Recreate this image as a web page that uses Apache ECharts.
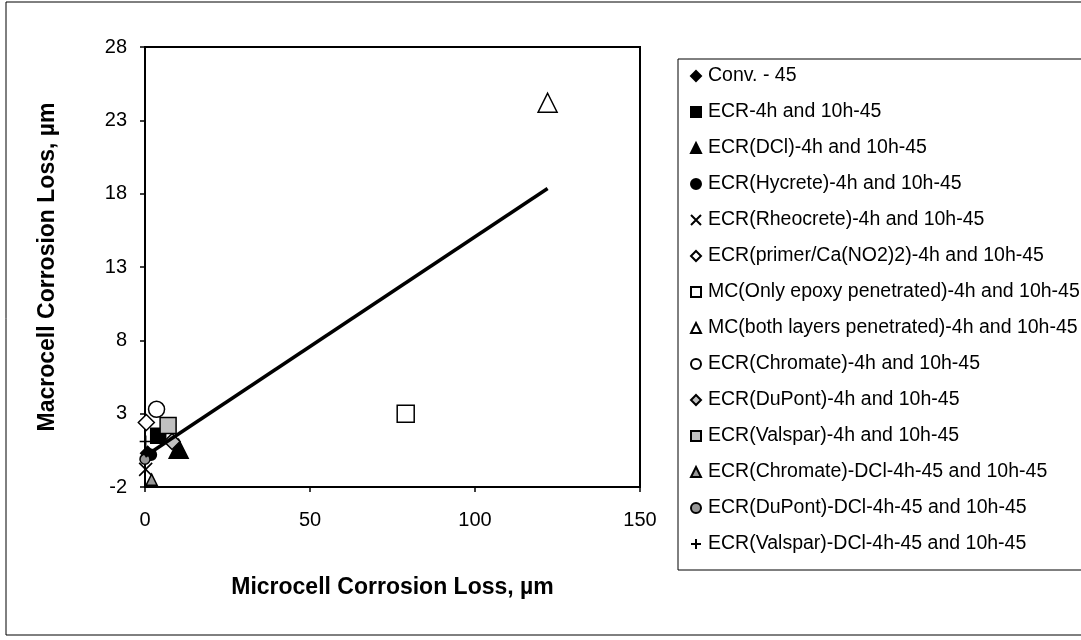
<!DOCTYPE html>
<html>
<head>
<meta charset="utf-8">
<script src="https://cdn.jsdelivr.net/npm/echarts@6/dist/echarts.min.js"></script>
<style>
html,body{margin:0;padding:0;background:#fff;}
#chart{width:1081px;height:640px;}
</style>
</head>
<body>
<div id="chart"></div>
<script>
// ---- data ----
const seriesNames = [
  'Conv. - 45',
  'ECR-4h and 10h-45',
  'ECR(DCl)-4h and 10h-45',
  'ECR(Hycrete)-4h and 10h-45',
  'ECR(Rheocrete)-4h and 10h-45',
  'ECR(primer/Ca(NO2)2)-4h and 10h-45',
  'MC(Only epoxy penetrated)-4h and 10h-45',
  'MC(both layers penetrated)-4h and 10h-45',
  'ECR(Chromate)-4h and 10h-45',
  'ECR(DuPont)-4h and 10h-45',
  'ECR(Valspar)-4h and 10h-45',
  'ECR(Chromate)-DCl-4h-45 and 10h-45',
  'ECR(DuPont)-DCl-4h-45 and 10h-45',
  'ECR(Valspar)-DCl-4h-45 and 10h-45'
];
// microcell (x) values
const microcell = [0.8, 4.0, 10.2, 1.8, 0.2, 0.4, 79.0, 122.0, 3.5, 8.2, 7.0, 2.0, 0.0, 0.2];
// macrocell (y) values
const macrocell = [0.3, 1.5, 0.6, 0.2, -0.8, 2.4, 3.0, 24.2, 3.3, 1.1, 2.2, -1.5, -0.1, 1.1];
// trend line end points
const trendX = [0, 122];
const trendY = [0.1, 18.35];
const xTicks = [0, 50, 100, 150];
const yTicks = [-2, 3, 8, 13, 18, 23, 28];

// ---- styles ----
const XPATH = 'path://M0,0L10,10M10,0L0,10';
const PLUSPATH = 'path://M5,0L5,10M0,5L10,5';
const markerStyles = [
  {symbol: 'diamond', size: 14, fill: '#000'},
  {symbol: 'rect', size: 15, fill: '#000'},
  {symbol: 'triangle', size: 19, fill: '#000'},
  {symbol: 'circle', size: 11, fill: '#000'},
  {symbol: XPATH, size: 13, fill: 'none', line: true},
  {symbol: 'diamond', size: 16, fill: '#fff'},
  {symbol: 'rect', size: 17, fill: '#fff'},
  {symbol: 'triangle', size: 19, fill: '#fff'},
  {symbol: 'circle', size: 16, fill: '#fff'},
  {symbol: 'diamond', size: 16, fill: '#c0c0c0'},
  {symbol: 'rect', size: 16, fill: '#c0c0c0'},
  {symbol: 'triangle', size: 11, fill: '#969696'},
  {symbol: 'circle', size: 10, fill: '#969696'},
  {symbol: PLUSPATH, size: 12, fill: 'none', line: true}
];

const font = 'Liberation Sans, Arial, sans-serif';
const series = seriesNames.map((name, i) => {
  const m = markerStyles[i];
  return {
    name: name,
    type: 'scatter',
    data: [[microcell[i], macrocell[i]]],
    symbol: m.symbol,
    symbolSize: m.size,
    z: 3,
    itemStyle: {
      color: m.line ? 'rgba(0,0,0,0)' : m.fill,
      borderColor: '#000',
      borderWidth: m.line ? 1.6 : 1.5,
      opacity: 1
    }
  };
});
series.push({
  name: 'trend',
  type: 'line',
  data: trendX.map((x, i) => [x, trendY[i]]),
  symbol: 'none',
  lineStyle: {color: '#000', width: 3.5},
  z: 4,
  silent: true
});

const chart = echarts.init(document.getElementById('chart'), null, {renderer: 'canvas'});
chart.setOption({
  animation: false,
  backgroundColor: '#fff',
  textStyle: {fontFamily: font},
  graphic: [{
    type: 'rect',
    shape: {x: 6, y: 2, width: 1200, height: 633},
    style: {fill: 'none', stroke: '#000', lineWidth: 1},
    silent: true
  }],
  grid: {
    left: 145, right: 441, top: 47, bottom: 153,
    show: true, borderColor: '#000', borderWidth: 2, backgroundColor: '#fff'
  },
  legend: {
    data: seriesNames,
    orient: 'vertical',
    left: 678, top: 59,
    padding: [7, 40, 16, 12],
    itemGap: 16,
    itemWidth: 10, itemHeight: 10,
    borderColor: '#000', borderWidth: 1,
    backgroundColor: '#fff',
    textStyle: {fontFamily: font, fontSize: 19.5, color: '#000', lineHeight: 20, padding: [0, 0, 0, 2]},
    selectedMode: false
  },
  xAxis: {
    type: 'value', min: xTicks[0], max: xTicks[xTicks.length - 1], interval: 50,
    name: 'Microcell Corrosion Loss, µm',
    nameLocation: 'middle', nameGap: 89,
    nameTextStyle: {fontFamily: font, fontSize: 23, fontWeight: 'bold', color: '#000'},
    axisLine: {show: true, onZero: false, lineStyle: {color: '#000', width: 2}},
    axisTick: {show: true, inside: false, length: 5, lineStyle: {color: '#000', width: 1.5}},
    axisLabel: {color: '#000', fontSize: 20, fontFamily: font, margin: 23},
    splitLine: {show: false}
  },
  yAxis: {
    type: 'value', min: yTicks[0], max: yTicks[yTicks.length - 1], interval: 5,
    name: 'Macrocell Corrosion Loss, µm',
    nameLocation: 'middle', nameGap: 86,
    nameTextStyle: {fontFamily: font, fontSize: 23, fontWeight: 'bold', color: '#000'},
    axisLine: {show: true, onZero: false, lineStyle: {color: '#000', width: 2}},
    axisTick: {show: true, inside: false, length: 5, lineStyle: {color: '#000', width: 1.5}},
    axisLabel: {color: '#000', fontSize: 20, fontFamily: font, margin: 18},
    splitLine: {show: false}
  },
  series: series
});
</script>
</body>
</html>
